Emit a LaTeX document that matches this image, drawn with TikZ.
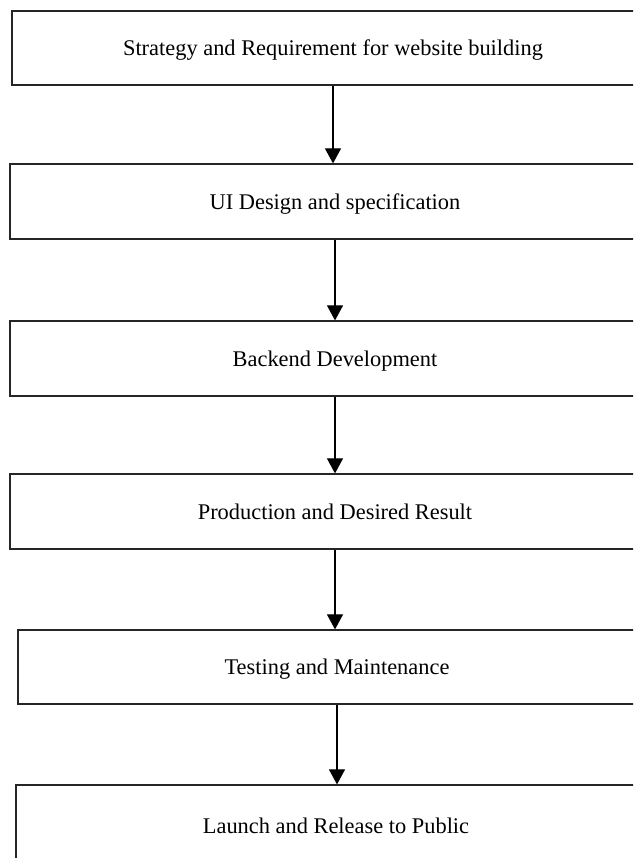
\documentclass[tikz,border=0pt]{standalone}
\usepackage{fontspec}
\setmainfont{Liberation Serif}
\usetikzlibrary{arrows.meta}
\begin{document}
\begin{tikzpicture}[x=1pt,y=-1pt,
  stagebox/.style={draw=black!85, line width=1.2pt, inner sep=0pt, text depth=0pt, font=\fontsize{22.4}{25}\selectfont},
  flowarrow/.style={draw=black, line width=1.1pt, -{Triangle[length=15pt,width=16pt]}}]
\useasboundingbox (0,0) rectangle (633,858);
\clip (0,0) rectangle (633,858);
\node[stagebox, minimum width=642pt, minimum height=74pt] (b1) at (333,48) {Strategy and Requirement for website building};
\node[stagebox, minimum width=650pt, minimum height=75pt] (b2) at (335,201.5) {UI Design and specification};
\node[stagebox, minimum width=650pt, minimum height=75pt] (b3) at (335,358.5) {Backend Development};
\node[stagebox, minimum width=650pt, minimum height=75pt] (b4) at (335,511.5) {Production and Desired Result};
\node[stagebox, minimum width=638pt, minimum height=74pt] (b5) at (337,667) {Testing and Maintenance};
\node[stagebox, minimum width=640pt, minimum height=82pt] (b6) at (336,826) {Launch and Release to Public};
\draw[flowarrow] (b1.south) -- (b1.south |- b2.north);
\draw[flowarrow] (b2.south) -- (b2.south |- b3.north);
\draw[flowarrow] (b3.south) -- (b3.south |- b4.north);
\draw[flowarrow] (b4.south) -- (b4.south |- b5.north);
\draw[flowarrow] (b5.south) -- (b5.south |- b6.north);
\end{tikzpicture}
\end{document}
